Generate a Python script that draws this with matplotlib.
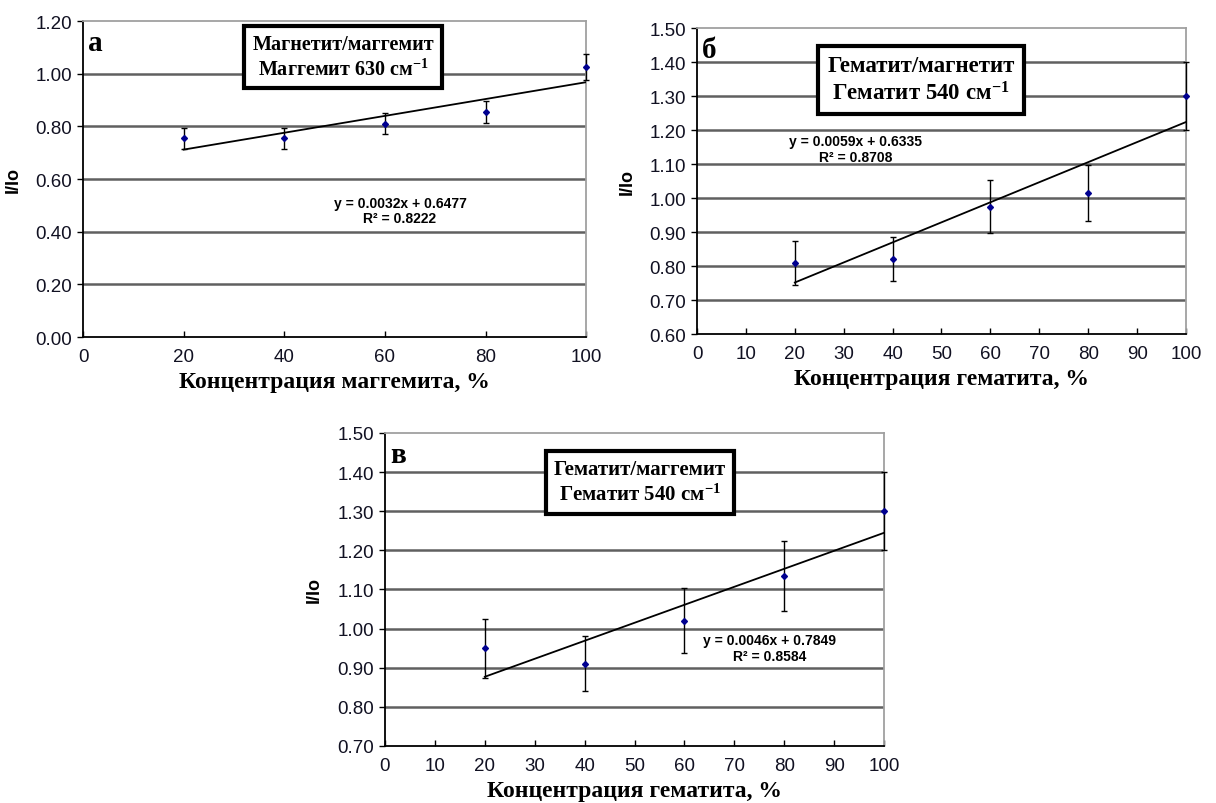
import numpy as np
import matplotlib.pyplot as plt

conc = [20, 40, 60, 80, 100]

# панель а
a_y = [0.755, 0.755, 0.81, 0.855, 1.025]
a_err = [0.04, 0.04, 0.04, 0.043, 0.05]
a_fit = [0.0032, 0.6477, 0.8222]
# панель б
b_y = [0.81, 0.82, 0.975, 1.015, 1.30]
b_err = [0.065, 0.065, 0.078, 0.083, 0.10]
b_fit = [0.0059, 0.6335, 0.8708]
# панель в
v_y = [0.95, 0.91, 1.02, 1.135, 1.30]
v_err = [0.075, 0.07, 0.083, 0.09, 0.10]
v_fit = [0.0046, 0.7849, 0.8584]

panels = [
    dict(rect=[0.0683, 0.5796, 0.4137, 0.393], y=a_y, err=a_err, fit=a_fit,
         ylim=(0.0, 1.2), ystep=0.2, xstep=20, letter='а',
         box=('Магнетит/маггемит', 'Маггемит 630 см$^{-1}$'), boxpos=(0.517, 0.886), boxfs=14.5,
         eqpos=(0.63, 0.40), xlabel='Концентрация маггемита, %'),
    dict(rect=[0.5732, 0.5833, 0.4021, 0.3806], y=b_y, err=b_err, fit=b_fit,
         ylim=(0.6, 1.5), ystep=0.1, xstep=10, letter='б',
         box=('Гематит/магнетит', 'Гематит 540 см$^{-1}$'), boxpos=(0.458, 0.83), boxfs=16.5,
         eqpos=(0.325, 0.605), xlabel='Концентрация гематита, %'),
    dict(rect=[0.3166, 0.0709, 0.4104, 0.3893], y=v_y, err=v_err, fit=v_fit,
         ylim=(0.7, 1.5), ystep=0.1, xstep=10, letter='в',
         box=('Гематит/маггемит', 'Гематит 540 см$^{-1}$'), boxpos=(0.511, 0.843), boxfs=15,
         eqpos=(0.77, 0.313), xlabel='Концентрация гематита, %'),
]

serif = ['Liberation Serif', 'DejaVu Serif']
sans = ['Liberation Sans', 'DejaVu Sans']
plt.rcParams['mathtext.fontset'] = 'custom'
plt.rcParams['mathtext.rm'] = 'Liberation Serif:bold'
plt.rcParams['mathtext.it'] = 'Liberation Serif:bold'
plt.rcParams['mathtext.bf'] = 'Liberation Serif:bold'

fig = plt.figure(figsize=(12.16, 8.04), dpi=100)

for p in panels:
    ax = fig.add_axes(p['rect'])
    lo, hi = p['ylim']
    ax.set_xlim(0, 100)
    ax.set_ylim(lo, hi)
    yt = np.round(np.arange(lo, hi + 1e-9, p['ystep']), 2)
    ax.set_yticks(yt)
    ax.set_yticklabels(['%.2f' % v for v in yt], family=sans, fontsize=13.5, color='#111122')
    xt = np.arange(0, 101, p['xstep'])
    ax.set_xticks(xt)
    ax.set_xticklabels([str(v) for v in xt], family=sans, fontsize=13.5, color='#111122')
    ax.tick_params(axis='y', direction='out', length=4, width=1, pad=4)
    ax.tick_params(axis='x', direction='in', length=4, width=1, pad=8)

    for v in yt[1:-1]:
        ax.axhline(v, color='#606060', lw=1.8, zorder=1)

    for s in ('left', 'bottom'):
        ax.spines[s].set_color('black')
        ax.spines[s].set_linewidth(1.3)
    for s in ('top', 'right'):
        ax.spines[s].set_color('#a0a0a0')
        ax.spines[s].set_linewidth(1.3)

    k, b, r2 = p['fit']
    xs = np.array([conc[0], conc[-1]])
    ax.plot(xs, k * xs + b, color='black', lw=1.3, zorder=3)
    eb = ax.errorbar(conc, p['y'], yerr=p['err'], fmt='D', color='#000090', ms=3,
                     ecolor='black', elinewidth=1.0, capsize=2.5, capthick=1.0, zorder=4)
    for art in [eb.lines[0]] + list(eb.lines[1]) + list(eb.lines[2]):
        art.set_clip_on(False)

    ax.text(0.01, 0.975, p['letter'], transform=ax.transAxes, ha='left', va='top',
            family=serif, fontsize=21, fontweight='bold')
    ax.text(p['boxpos'][0], p['boxpos'][1], p['box'][0] + '\n' + p['box'][1],
            transform=ax.transAxes, ha='center', va='center', family=serif,
            fontsize=p['boxfs'], fontweight='bold', linespacing=1.3, zorder=5,
            bbox=dict(boxstyle='square,pad=0.4', fc='white', ec='black', lw=3))
    ax.text(p['eqpos'][0], p['eqpos'][1], 'y = %.4fx + %.4f\nR² = %.4f' % (k, b, r2),
            transform=ax.transAxes, ha='center', va='center', family=sans,
            fontsize=10, fontweight='bold', linespacing=1.15, zorder=5)

    ax.set_xlabel(p['xlabel'], family=serif, fontsize=17, fontweight='bold', labelpad=4)
    ax.set_ylabel('I/Io', family=sans, fontsize=13, fontweight='bold', labelpad=10)

fig.savefig('out.png', dpi=100)
